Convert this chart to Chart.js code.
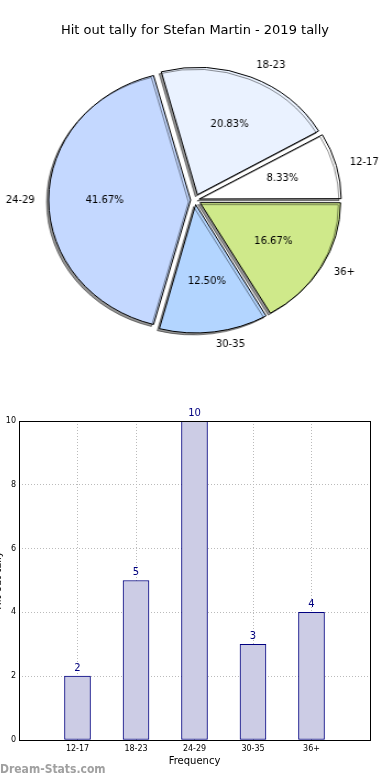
<!DOCTYPE html>
<html>
<head>
<meta charset="utf-8">
<script src="https://cdn.jsdelivr.net/npm/chart.js@4.4.1/dist/chart.umd.min.js"></script>
<style>
  body { margin: 0; background: #fff; width: 390px; height: 780px; overflow: hidden; position: relative; font-family: "DejaVu Sans", sans-serif; }
  #pie { position: absolute; left: 0; top: 0; transform: scaleX(1.1); transform-origin: 195px 0; }
  #pieTitle { position: absolute; left: 0; top: 22px; width: 390px; text-align: center; font-size: 13px; line-height: 16px; color: #000; }
  #bars { position: absolute; left: -10px; top: 400px; }
  #brand { position: absolute; left: 0; top: 762px; font-family: "DejaVu Sans Condensed", "DejaVu Sans", sans-serif; font-weight: bold; font-size: 12px; color: #a0a0a0; }
</style>
</head>
<body>
<canvas id="pie" width="390" height="400"></canvas>
<div id="pieTitle">Hit out tally for Stefan Martin - 2019 tally</div>
<canvas id="bars" width="400" height="380"></canvas>
<div id="brand">Dream-Stats.com</div>

<script>
// data
const ageGroups = ["12-17", "18-23", "24-29", "30-35", "36+"];
const tallies = [2, 5, 10, 3, 4];
const pieColors = ["#ffffff", "#eaf2ff", "#c4d8ff", "#b3d5ff", "#cfe98a"];
const yTicks = [0, 2, 4, 6, 8, 10];

const STRETCH = 1.1;   // pie is drawn slightly wider than tall
const SHIFT = 6;       // explode distance
const total = tallies.reduce((a, b) => a + b, 0);

// chart.js goes clockwise, the original goes counter-clockwise from east
const pieLabelsCw = ageGroups.slice().reverse();
const pieDataCw = tallies.slice().reverse();
const pieColorsCw = pieColors.slice().reverse();

function textAt(ctx, txt, x, y, align) {
  ctx.save();
  ctx.translate(x, y);
  ctx.scale(1 / STRETCH, 1);
  ctx.textAlign = align;
  ctx.fillText(txt, 0, 0);
  ctx.restore();
}

const pieDecor = {
  id: "pieDecor",
  beforeDatasetDraw(chart) {
    const c = chart.ctx;
    c.save();
    c.shadowColor = "rgba(0,0,0,0.42)";
    c.shadowOffsetX = -2;
    c.shadowOffsetY = 2;
    c.shadowBlur = 0;
  },
  afterDatasetDraw(chart) {
    chart.ctx.restore();
  },
  afterDatasetsDraw(chart) {
    const c = chart.ctx;
    const meta = chart.getDatasetMeta(0);
    c.save();
    c.font = "10px 'DejaVu Sans'";
    c.fillStyle = "#000";
    c.textBaseline = "middle";
    meta.data.forEach((arc, i) => {
      const mid = (arc.startAngle + arc.endAngle) / 2;
      const cx = arc.x + Math.cos(mid) * SHIFT;
      const cy = arc.y + Math.sin(mid) * SHIFT;
      const r = arc.outerRadius;
      const pct = (pieDataCw[i] / total * 100).toFixed(2) + "%";
      textAt(c, pct, cx + Math.cos(mid) * r * 0.6, cy + Math.sin(mid) * r * 0.6, "center");
      const lx = cx + Math.cos(mid) * r * 1.1;
      const ly = cy + Math.sin(mid) * r * 1.1;
      textAt(c, pieLabelsCw[i], lx, ly, Math.cos(mid) >= 0 ? "left" : "right");
    });
    c.restore();
  }
};

new Chart(document.getElementById("pie"), {
  type: "pie",
  data: {
    labels: pieLabelsCw,
    datasets: [{
      data: pieDataCw,
      backgroundColor: pieColorsCw,
      borderColor: "#000",
      borderWidth: 1,
      radius: 127,
      offset: (ctx) => {
        const ang = ctx.raw / total * Math.PI * 2;
        const fix = 1 - Math.sin(Math.min(Math.PI, ang));
        return SHIFT * 4 / (1 + fix);
      }
    }]
  },
  options: {
    responsive: false,
    animation: false,
    rotation: 90,
    plugins: { legend: { display: false }, tooltip: { enabled: false } }
  },
  plugins: [pieDecor]
});

const barDecor = {
  id: "barDecor",
  afterDatasetsDraw(chart) {
    const c = chart.ctx;
    c.save();
    c.font = "10px 'DejaVu Sans'";
    c.fillStyle = "#000080";
    c.textAlign = "center";
    c.textBaseline = "bottom";
    chart.getDatasetMeta(0).data.forEach((bar, i) => {
      c.fillText(String(tallies[i]), bar.x, bar.y - 3);
    });
    c.restore();
  },
  afterDraw(chart) {
    const a = chart.chartArea;
    const c = chart.ctx;
    c.save();
    c.strokeStyle = "#000";
    c.lineWidth = 1;
    c.strokeRect(Math.round(a.left) + 0.5, Math.round(a.top) + 0.5, Math.round(a.right - a.left), Math.round(a.bottom - a.top));
    c.restore();
  }
};

new Chart(document.getElementById("bars"), {
  type: "bar",
  data: {
    datasets: [{
      data: tallies.map((v, i) => ({ x: i, y: v })),
      backgroundColor: "#ccccE5",
      borderColor: "#000080",
      borderWidth: 1,
      borderSkipped: false,
      barThickness: 26
    }]
  },
  options: {
    responsive: false,
    animation: false,
    layout: { padding: { top: 21, right: 20, left: 0, bottom: 0 } },
    plugins: { legend: { display: false }, tooltip: { enabled: false } },
    scales: {
      x: {
        type: "linear",
        min: -1,
        max: 5,
        offset: false,
        grid: { offset: false, color: "#bbbbbb", drawTicks: false },
        border: { display: false, dash: [1, 2] },
        ticks: {
          stepSize: 1,
          autoSkip: false,
          maxRotation: 0,
          padding: 4,
          color: "#000",
          font: { family: "DejaVu Sans", size: 8 },
          callback: (v) => ageGroups[v] || ""
        },
        title: { display: true, text: "Frequency", color: "#000", font: { family: "DejaVu Sans", size: 10 }, padding: { top: 0, bottom: 13 } },
        afterFit(s) { s.height = 40; }
      },
      y: {
        min: 0,
        max: 10,
        grid: { color: "#bbbbbb", drawTicks: false },
        border: { display: false, dash: [1, 2] },
        afterBuildTicks(s) { s.ticks = yTicks.map(v => ({ value: v })); },
        ticks: { padding: 3, color: "#000", font: { family: "DejaVu Sans", size: 8 } },
        title: { display: true, text: "Hit out tally", color: "#000", font: { family: "DejaVu Sans", size: 10 }, padding: { top: 2, bottom: 0 } },
        afterFit(s) { s.width = 29; }
      }
    }
  },
  plugins: [barDecor]
});
</script>
</body>
</html>
